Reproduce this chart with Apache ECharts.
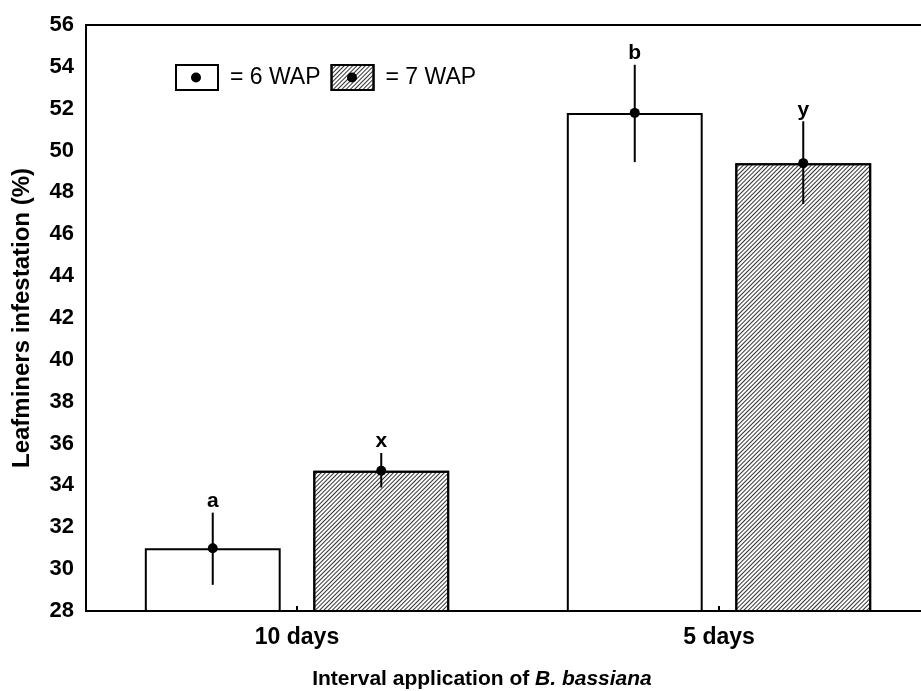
<!DOCTYPE html>
<html>
<head>
<meta charset="utf-8">
<script src="https://cdn.jsdelivr.net/npm/echarts@6/dist/echarts.min.js"></script>
<style>html,body{margin:0;padding:0;background:#fff;}#c{width:921px;height:691px;}</style>
</head>
<body>
<div id="c"></div>
<script>
const categories = ['10 days', '5 days'];
const mean6 = [31.0, 51.8];
const low6 = [29.25, 49.45];
const high6 = [32.7, 54.1];
const letters6 = ['a', 'b'];
const mean7 = [34.7, 49.4];
const low7 = [33.9, 47.45];
const high7 = [35.55, 51.4];
const letters7 = ['x', 'y'];
const seriesNames = ['= 6 WAP', '= 7 WAP'];
const yMin = 28, yMax = 56, yStep = 2;

const FONT = 'Liberation Sans, Arial, sans-serif';
const BAR_W = 0.322, BAR_GAP = 0.24;

function errSeries(means, lows, highs, letters, side) {
  return {
    type: 'custom',
    z: 5,
    data: categories.map((c, i) => [i, means[i], lows[i], highs[i]]),
    encode: { x: 0, y: [1, 2, 3] },
    renderItem: function (params, api) {
      const i = api.value(0);
      const c = api.coord([i, api.value(1)]);
      const band = api.size([1, 0])[0];
      const bw = band * BAR_W;
      const x = c[0] + side * bw * (1 + BAR_GAP) / 2;
      const yl = api.coord([i, api.value(2)])[1];
      const yh = api.coord([i, api.value(3)])[1];
      return {
        type: 'group',
        children: [
          { type: 'line', shape: { x1: x, y1: yh, x2: x, y2: yl }, style: { stroke: '#000', lineWidth: 2 } },
          { type: 'circle', shape: { cx: x, cy: c[1], r: 5 }, style: { fill: '#000' } },
          { type: 'text', x: x, y: yh - 1, style: { text: letters[params.dataIndex], fill: '#000', font: 'bold 21px ' + FONT, textAlign: 'center', textVerticalAlign: 'bottom' } }
        ]
      };
    }
  };
}

const chart = echarts.init(document.getElementById('c'), null, { renderer: 'canvas' });
chart.setOption({
  animation: false,
  backgroundColor: '#fff',
  grid: { left: 86, top: 25, bottom: 80, right: -9, show: true, borderColor: '#000', borderWidth: 2, containLabel: false, outerBoundsMode: 'none' },
  legend: {
    data: seriesNames,
    left: 175, top: 64, padding: 0,
    itemWidth: 42, itemHeight: 25, itemGap: 10,
    icon: 'rect',
    textStyle: { fontSize: 23, color: '#000', fontFamily: FONT, padding: [0, 0, 0, 7] }
  },
  graphic: [
    { type: 'circle', shape: { cx: 196, cy: 77.5, r: 5 }, style: { fill: '#000' }, z: 100 },
    { type: 'circle', shape: { cx: 352, cy: 77.5, r: 5 }, style: { fill: '#000' }, z: 100 }
  ],
  xAxis: {
    type: 'category',
    data: categories,
    axisLine: { lineStyle: { color: '#000', width: 2 } },
    axisTick: { show: true, alignWithLabel: true, inside: true, length: 5, lineStyle: { color: '#000', width: 2 } },
    axisLabel: { color: '#000', fontSize: 23, fontWeight: 'bold', fontFamily: FONT, margin: 15 },
    name: '{a|Interval application of }{b|B. bassiana}',
    nameLocation: 'middle',
    nameGap: 58,
    nameTextStyle: {
      padding: [0, 52, 0, 0],
      rich: {
        a: { fontSize: 21, fontWeight: 'bold', color: '#000', fontFamily: FONT },
        b: { fontSize: 21, fontWeight: 'bold', fontStyle: 'italic', color: '#000', fontFamily: FONT }
      }
    }
  },
  yAxis: {
    type: 'value',
    min: yMin, max: yMax, interval: yStep,
    splitLine: { show: false },
    axisLine: { show: true, lineStyle: { color: '#000', width: 2 } },
    axisTick: { show: false },
    axisLabel: { color: '#000', fontSize: 22, fontWeight: 'bold', fontFamily: FONT, margin: 12 },
    name: 'Leafminers infestation (%)',
    nameLocation: 'middle',
    nameGap: 52,
    nameTextStyle: { fontSize: 24, fontWeight: 'bold', color: '#000', fontFamily: FONT }
  },
  series: [
    {
      name: seriesNames[0], type: 'bar', data: mean6,
      barWidth: (BAR_W * 100) + '%', barGap: (BAR_GAP * 100) + '%',
      itemStyle: { color: '#fff', borderColor: '#000', borderWidth: 2 }
    },
    {
      name: seriesNames[1], type: 'bar', data: mean7,
      barWidth: (BAR_W * 100) + '%', barGap: (BAR_GAP * 100) + '%',
      itemStyle: {
        color: '#fff', borderColor: '#000', borderWidth: 2,
        decal: { symbol: 'rect', symbolSize: 1, color: '#333', dashArrayX: [1, 0], dashArrayY: [1, 2], rotation: -Math.PI / 4 }
      }
    },
    errSeries(mean6, low6, high6, letters6, -1),
    errSeries(mean7, low7, high7, letters7, 1)
  ]
});
</script>
</body>
</html>
